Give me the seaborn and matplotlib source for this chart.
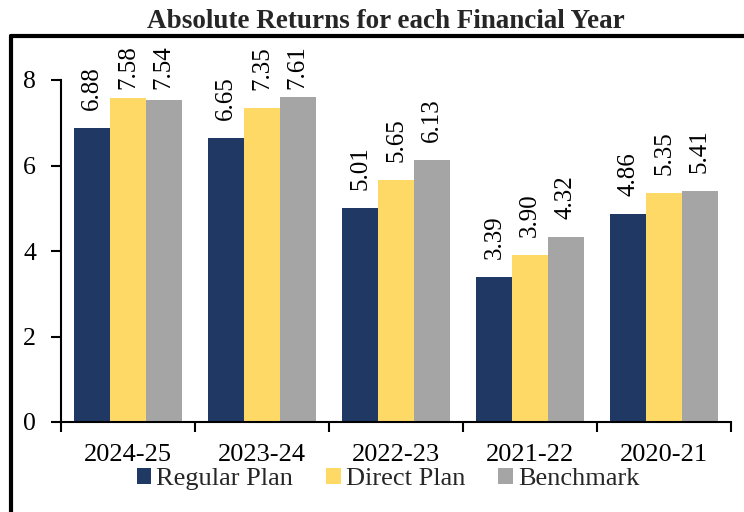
import matplotlib
matplotlib.use("Agg")
import matplotlib.pyplot as plt
from matplotlib.lines import Line2D
import seaborn as sns
import pandas as pd
import numpy as np

years = ["2024-25", "2023-24", "2022-23", "2021-22", "2020-21"]
series = ["Regular Plan", "Direct Plan", "Benchmark"]
regular = [6.88, 6.65, 5.01, 3.39, 4.86]
direct = [7.58, 7.35, 5.65, 3.90, 5.35]
benchmark = [7.54, 7.61, 6.13, 4.32, 5.41]
colors = ["#203864", "#FFD966", "#A5A5A5"]
title = "Absolute Returns for each Financial Year"

df = pd.DataFrame({
    "year": years * 3,
    "series": [series[0]] * 5 + [series[1]] * 5 + [series[2]] * 5,
    "value": regular + direct + benchmark,
})

sns.set_theme(style="ticks")
plt.rcParams["font.family"] = ["Liberation Serif", "DejaVu Serif"]
plt.rcParams["font.size"] = 18

fig = plt.figure(figsize=(7.44, 5.12), dpi=100)
ax = fig.add_axes([61 / 744, 1 - 422 / 512, (731 - 61) / 744, (422 - 80) / 512])

sns.barplot(data=df, x="year", y="value", hue="series", order=years,
            hue_order=series, palette=colors, width=0.8, saturation=1,
            linewidth=0, ax=ax)

ax.set_ylim(0, 8)
ax.set_xlim(-0.5, len(years) - 0.5)
ax.set_yticks([0, 2, 4, 6, 8])
ax.set_xlabel("")
ax.set_ylabel("")
ax.tick_params(axis="y", labelsize=18.5, length=7, width=1.5, pad=11, colors="black")
ax.set_xticks(np.arange(len(years)))
ax.set_xticklabels(years, fontsize=19)
ax.tick_params(axis="x", which="major", length=0, pad=16, colors="black")
ax.set_xticks(np.arange(len(years) + 1) - 0.5, minor=True)
ax.tick_params(axis="x", which="minor", length=7, width=1.5, colors="black")
for s in ["top", "right"]:
    ax.spines[s].set_visible(False)
for s in ["left", "bottom"]:
    ax.spines[s].set_color("black")
    ax.spines[s].set_linewidth(1.5)

# value labels (rotated, clamped near the top like the original)
px_per_unit = 342 / 8
offset = 40 / px_per_unit
cap = 8 + 13 / px_per_unit
for cont in ax.containers:
    for bar in cont:
        v = bar.get_height()
        xc = bar.get_x() + bar.get_width() / 2
        y = min(v + offset, cap)
        ax.text(xc, y, f"{v:.2f}", rotation=90, ha="center", va="center",
                fontsize=18, color="black", clip_on=False)

leg = ax.legend(loc="center", bbox_to_anchor=(388 / 744, 1 - 479 / 512),
                bbox_transform=fig.transFigure, ncol=3, frameon=False,
                fontsize=19, handlelength=0.55, handleheight=0.6,
                handletextpad=0.2, columnspacing=1.25, borderaxespad=0)

fig.text(386 / 744, 1 - 22 / 512, title, ha="center", va="center",
         fontsize=19.5, fontweight="bold")

# chart frame (left and top edges visible)
fig.add_artist(Line2D([10.5 / 744, 10.5 / 744], [1 - 35.5 / 512, 0],
                      transform=fig.transFigure, color="black", linewidth=3))
fig.add_artist(Line2D([10.5 / 744, 1], [1 - 35.5 / 512, 1 - 35.5 / 512],
                      transform=fig.transFigure, color="black", linewidth=3))

fig.savefig("out.png", dpi=100)
